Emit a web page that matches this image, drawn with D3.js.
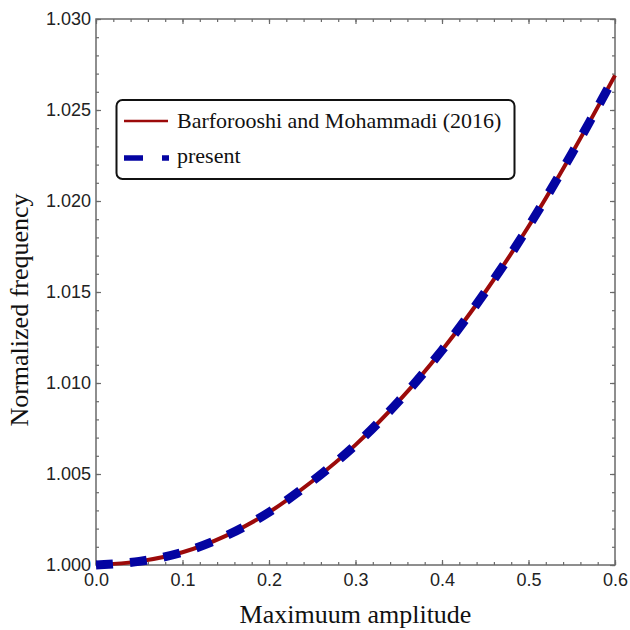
<!DOCTYPE html>
<html>
<head>
<meta charset="utf-8">
<script src="https://cdn.jsdelivr.net/npm/d3@7"></script>
<style>
  html, body { margin: 0; padding: 0; background: #fff; }
  svg { display: block; }
  .serif { font-family: "Liberation Serif", "Times New Roman", "DejaVu Serif", serif; }
  .sans { font-family: "Liberation Sans", Arial, sans-serif; }
</style>
</head>
<body>
<svg id="chart" width="630" height="630"></svg>
<script>
// Data
const amplitude = [0, 0.05, 0.1, 0.15, 0.2, 0.25, 0.3, 0.35, 0.4, 0.45, 0.5, 0.55, 0.6];
const freqBarforooshi = [1.0000, 1.0002, 1.0007, 1.0016, 1.0029, 1.0046, 1.0066, 1.0090, 1.0118, 1.0150, 1.0186, 1.0226, 1.0269];
const freqPresent     = [1.0000, 1.0002, 1.0007, 1.0016, 1.0029, 1.0046, 1.0066, 1.0090, 1.0118, 1.0150, 1.0186, 1.0226, 1.0269];
const seriesNames = ["Barforooshi and Mohammadi (2016)", "present"];
const xTicks = [0, 0.1, 0.2, 0.3, 0.4, 0.5, 0.6];
const yTicks = [1.000, 1.005, 1.010, 1.015, 1.020, 1.025, 1.030];
const xTitle = "Maximuum amplitude";
const yTitle = "Normalized frequency";

(function () {
const svg = d3.select("#chart");
const pL = 96, pR = 615, pT = 19, pB = 565;

const x = d3.scaleLinear().domain([0, 0.6]).range([pL, pR]);
const y = d3.scaleLinear().domain([1.000, 1.030]).range([pB, pT]);

const axisColor = "#6a6a6a";
const xMinor = d3.range(0, 0.6001, 0.02);
const yMinor = d3.range(1.000, 1.03001, 0.001);

function styleAxis(g) {
  g.attr("font-family", null).attr("font-size", null);
  g.select(".domain").remove();
  g.selectAll(".tick line").attr("stroke", axisColor).attr("stroke-width", 1.2);
  g.selectAll(".tick text").attr("fill", "#222").attr("class", "sans")
    .style("font-size", "18px");
}

// minor ticks (all four sides)
svg.append("g").attr("transform", `translate(0,${pB})`)
  .call(d3.axisBottom(x).tickValues(xMinor).tickSize(-3).tickFormat("")).call(styleAxis);
svg.append("g").attr("transform", `translate(0,${pT})`)
  .call(d3.axisTop(x).tickValues(xMinor).tickSize(-3).tickFormat("")).call(styleAxis);
svg.append("g").attr("transform", `translate(${pL},0)`)
  .call(d3.axisLeft(y).tickValues(yMinor).tickSize(-3).tickFormat("")).call(styleAxis);
svg.append("g").attr("transform", `translate(${pR},0)`)
  .call(d3.axisRight(y).tickValues(yMinor).tickSize(-3).tickFormat("")).call(styleAxis);

// major ticks
svg.append("g").attr("transform", `translate(0,${pB})`)
  .call(d3.axisBottom(x).tickValues(xTicks).tickSize(-5).tickPadding(8).tickFormat(d3.format(".1f"))).call(styleAxis);
svg.append("g").attr("transform", `translate(0,${pT})`)
  .call(d3.axisTop(x).tickValues(xTicks).tickSize(-5).tickFormat("")).call(styleAxis);
svg.append("g").attr("transform", `translate(${pL},0)`)
  .call(d3.axisLeft(y).tickValues(yTicks).tickSize(-5).tickPadding(5).tickFormat(d3.format(".3f"))).call(styleAxis);
svg.append("g").attr("transform", `translate(${pR},0)`)
  .call(d3.axisRight(y).tickValues(yTicks).tickSize(-5).tickFormat("")).call(styleAxis);

// frame
svg.append("rect").attr("x", pL).attr("y", pT)
  .attr("width", pR - pL).attr("height", pB - pT)
  .attr("fill", "none").attr("stroke", axisColor).attr("stroke-width", 1.5);

// curves
svg.append("clipPath").attr("id", "clip").append("rect")
  .attr("x", pL).attr("y", pT - 5).attr("width", pR - pL).attr("height", pB - pT + 10);

const line = d3.line().x(d => x(d[0])).y(d => y(d[1])).curve(d3.curveCatmullRom);

svg.append("path")
  .datum(amplitude.map((a, i) => [a, freqBarforooshi[i]]))
  .attr("d", line).attr("fill", "none")
  .attr("stroke", "#9c0a0a").attr("stroke-width", 4);

svg.append("path")
  .datum(amplitude.map((a, i) => [a, freqPresent[i]]))
  .attr("d", line).attr("fill", "none")
  .attr("stroke", "#0404a2").attr("stroke-width", 9)
  .attr("stroke-dasharray", "17,17")
  .attr("clip-path", "url(#clip)");

// axis titles
svg.append("text").attr("class", "serif").attr("x", (pL + pR) / 2).attr("y", 623)
  .attr("text-anchor", "middle")
  .style("font-size", "26px").attr("fill", "#111").text(xTitle);

svg.append("text").attr("class", "serif")
  .attr("transform", `translate(28,${(pT + pB) / 2 + 18}) rotate(-90)`)
  .attr("text-anchor", "middle")
  .style("font-size", "26px").attr("fill", "#111").text(yTitle);

// legend
const lg = svg.append("g");
lg.append("rect").attr("x", 116.5).attr("y", 100).attr("width", 398).attr("height", 79)
  .attr("rx", 6).attr("ry", 6).attr("fill", "#fff").attr("stroke", "#111").attr("stroke-width", 2);
lg.append("line").attr("x1", 124).attr("x2", 168).attr("y1", 121).attr("y2", 121)
  .attr("stroke", "#9c0a0a").attr("stroke-width", 2.5);
lg.append("line").attr("x1", 124).attr("x2", 169).attr("y1", 158).attr("y2", 158)
  .attr("stroke", "#0404a2").attr("stroke-width", 5.5).attr("stroke-dasharray", "19,19");
lg.append("text").attr("class", "serif").attr("x", 177).attr("y", 128)
  .style("font-size", "22px").attr("fill", "#111").text(seriesNames[0]);
lg.append("text").attr("class", "serif").attr("x", 177).attr("y", 163)
  .style("font-size", "22px").attr("fill", "#111").text(seriesNames[1]);
})();
</script>
</body>
</html>
